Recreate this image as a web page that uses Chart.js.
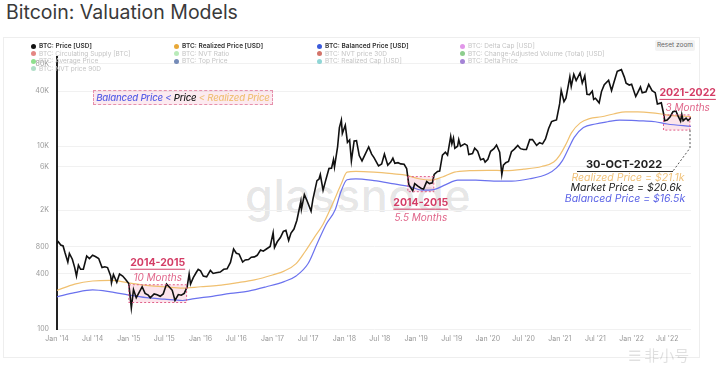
<!DOCTYPE html>
<html>
<head>
<meta charset="utf-8">
<script src="https://cdn.jsdelivr.net/npm/chart.js@4.4.0/dist/chart.umd.min.js"></script>
<style>
    body { margin: 0; width: 719px; height: 371px; background: #fff; overflow: hidden; position: relative; font-family: Inter, "Noto Sans", sans-serif; }
    .title { position: absolute; left: 6px; top: 0px; font-size: 19.5px; color: #3a3a3a; font-weight: 400; }
    .card { position: absolute; left: 3px; top: 37px; width: 697px; height: 321px; border: 1px solid #eee; box-sizing: border-box; }
    #chart { position: absolute; left: 0; top: 0; }
    .legend { position: absolute; font-size: 6.5px; white-space: nowrap; line-height: 7px; }
    .legend span.dot { display: inline-block; width: 5px; height: 5px; border-radius: 50%; margin-right: 3px; vertical-align: -0.5px; }
    .on { color: #333; font-weight: 600; }
    .off { color: #c4c4c4; }
    .off .dot { opacity: 0.7; }
    .reset { position: absolute; left: 655px; top: 40px; width: 40px; height: 11px; background: #f3f3f3; color: #666; font-size: 6.5px; line-height: 11px; text-align: center; border-radius: 2px; }
    .rule { position: absolute; left: 93px; top: 90px; width: 180px; height: 15px; background: rgba(240, 140, 170, 0.18); border: 1px dashed #e690ac; box-sizing: border-box; font-size: 9.6px; line-height: 13px; text-align: center; white-space: nowrap; font-style: italic; font-weight: 500; letter-spacing: -0.2px; }
    .watermark { position: absolute; left: 245px; top: 168px; font-size: 45px; font-weight: 500; color: rgba(0, 0, 0, 0.11); letter-spacing: 0.5px; }
    .fxh { position: absolute; left: 628px; top: 344px; font-size: 15px; color: rgba(0, 0, 0, 0.12); font-family: "Noto Sans CJK SC", sans-serif; }
</style>
</head>
<body>
<div class="title">Bitcoin: Valuation Models</div>
<div class="card"></div>
<div class="watermark">glassnode</div>
<canvas id="chart" width="719" height="371"></canvas>
<div id="legend"></div>
<div class="reset">Reset zoom</div>
<div class="rule"><span style="color:#5b63e6">Balanced Price &lt; </span><span style="color:#222">Price</span><span style="color:#f0c27a"> &lt; Realized Price</span></div>
<div class="fxh">☰ 非小号</div>
<script>
const priceDates = ['2014-01-01','2014-01-08','2014-01-20','2014-02-01','2014-02-10','2014-02-25','2014-03-05','2014-03-20','2014-04-01','2014-04-10','2014-04-20','2014-05-01','2014-05-15','2014-06-01','2014-06-15','2014-07-01','2014-07-15','2014-08-01','2014-08-18','2014-09-01','2014-09-15','2014-10-01','2014-10-05','2014-10-15','2014-11-01','2014-11-15','2014-12-01','2014-12-15',
    '2015-01-01','2015-01-14','2015-01-25','2015-02-08','2015-02-20','2015-03-10','2015-03-25','2015-04-10','2015-04-20','2015-05-10','2015-05-25','2015-06-10','2015-06-25','2015-07-12','2015-07-25','2015-08-10','2015-08-24','2015-09-10','2015-09-25','2015-10-10','2015-10-25','2015-11-04','2015-11-11','2015-11-25','2015-12-10','2015-12-20',
    '2016-01-01','2016-01-15','2016-02-01','2016-02-20','2016-03-05','2016-03-20','2016-04-10','2016-04-28','2016-05-15','2016-06-01','2016-06-17','2016-07-01','2016-07-15','2016-08-02','2016-08-15','2016-09-01','2016-09-15','2016-10-01','2016-10-15','2016-11-01','2016-11-15','2016-12-01','2016-12-20',
    '2017-01-04','2017-01-11','2017-01-25','2017-02-10','2017-02-25','2017-03-10','2017-03-24','2017-04-05','2017-04-20','2017-05-05','2017-05-25','2017-05-28','2017-06-12','2017-06-25','2017-07-16','2017-07-25','2017-08-15','2017-08-25','2017-09-01','2017-09-15','2017-09-28','2017-10-15','2017-10-28','2017-11-07','2017-11-12','2017-11-28','2017-12-07','2017-12-17','2017-12-22',
    '2018-01-06','2018-01-17','2018-01-28','2018-02-06','2018-02-20','2018-03-04','2018-03-18','2018-04-01','2018-04-15','2018-05-05','2018-05-20','2018-06-01','2018-06-24','2018-07-10','2018-07-24','2018-08-10','2018-08-25','2018-09-05','2018-09-15','2018-10-01','2018-10-15','2018-11-01','2018-11-14','2018-11-25','2018-12-15','2018-12-25',
    '2019-01-10','2019-01-28','2019-02-08','2019-02-24','2019-03-10','2019-03-25','2019-04-03','2019-04-20','2019-05-01','2019-05-15','2019-05-30','2019-06-10','2019-06-26','2019-07-02','2019-07-10','2019-07-17','2019-07-31','2019-08-06','2019-08-15','2019-09-05','2019-09-18','2019-09-26','2019-10-15','2019-10-26','2019-11-10','2019-11-25','2019-12-10','2019-12-18',
    '2020-01-01','2020-01-15','2020-02-01','2020-02-14','2020-03-01','2020-03-12','2020-03-20','2020-04-01','2020-04-15','2020-04-30','2020-05-15','2020-06-01','2020-06-15','2020-07-01','2020-07-15','2020-08-01','2020-08-15','2020-09-05','2020-09-20','2020-10-05','2020-10-20','2020-11-05','2020-11-20','2020-12-01','2020-12-15','2020-12-31',
    '2021-01-08','2021-01-22','2021-02-01','2021-02-15','2021-02-21','2021-02-28','2021-03-13','2021-03-25','2021-04-14','2021-04-25','2021-05-08','2021-05-19','2021-06-01','2021-06-15','2021-06-22','2021-07-01','2021-07-20','2021-08-01','2021-08-15','2021-09-06','2021-09-21','2021-10-01','2021-10-20','2021-11-10','2021-11-25','2021-12-04','2021-12-20',
    '2022-01-01','2022-01-22','2022-02-01','2022-02-15','2022-02-24','2022-03-15','2022-03-29','2022-04-15','2022-05-01','2022-05-12','2022-06-01','2022-06-13','2022-06-18','2022-07-01','2022-07-15','2022-07-30','2022-08-14','2022-08-25','2022-09-07','2022-09-13','2022-09-20','2022-10-05','2022-10-15','2022-10-30'];
const priceValues = [860,900,830,810,690,540,670,580,470,380,500,450,450,630,590,640,620,590,470,480,470,380,320,395,325,400,380,350,
    315,170,270,220,245,290,245,235,220,242,237,228,242,310,290,265,205,238,234,245,290,400,310,365,415,450,
    432,380,372,438,405,412,420,450,455,535,750,675,660,540,570,575,610,615,640,730,710,750,800,
    1130,780,900,1000,1170,1200,930,1120,1240,1550,2500,2050,2950,2550,1950,2600,4200,4350,4900,3300,4200,5700,5750,7150,5900,9900,16000,19300,13800,
    17000,11000,11700,6900,11400,11500,7900,6900,8000,9800,8200,7500,6100,6400,8200,6200,6700,7400,6500,6600,6400,6350,5700,3800,3250,3900,
    3650,3450,3400,4100,3900,3980,4900,5300,5350,8000,8600,8000,12800,10600,12300,9500,10000,11800,10000,10600,10200,8100,8300,9500,8800,7100,7300,6700,
    7200,8800,9400,10300,8600,4900,6200,6600,6800,8700,9300,10200,9400,9200,9200,11800,11800,10200,10900,10600,12000,15600,18600,19000,19400,29000,
    40800,30800,33500,48700,57500,45200,61200,52300,63500,49000,58800,37000,36700,40100,32500,33500,29800,39800,47000,52700,40600,48200,66000,68800,57000,49000,46700,
    47700,35000,38500,44500,38300,39300,47400,40500,38500,29000,29800,22500,19000,19300,20800,23800,24300,21500,18800,22300,19000,20300,19100,20600];

const realizedDates = ['2014-01-01','2014-04-01','2014-07-01','2014-10-01','2015-01-01','2015-04-01','2015-07-01','2015-10-01','2016-01-01','2016-04-01','2016-07-01','2016-10-01','2017-01-01','2017-03-01','2017-05-01','2017-06-15','2017-08-01','2017-09-15','2017-11-01','2017-12-15','2018-01-15','2018-03-01','2018-06-01','2018-09-01','2018-11-15','2019-01-15','2019-03-15','2019-05-15','2019-07-15','2019-10-01','2020-01-01','2020-04-01','2020-07-01','2020-10-01','2020-12-01','2021-01-01','2021-02-01','2021-03-01','2021-04-15','2021-06-01','2021-08-01','2021-10-01','2021-12-01','2022-02-01','2022-04-01','2022-06-01','2022-07-15','2022-10-30'];
const realizedValues = [265,310,335,340,320,300,290,280,290,300,320,345,390,430,520,700,1000,1400,2300,3800,5200,5300,5200,5000,4800,4400,4250,4600,5200,5400,5450,5400,5600,6000,6700,8000,10500,14000,18000,20000,21000,22500,23800,23700,23300,22500,21700,21100];

const balancedDates = ['2014-01-01','2014-04-01','2014-07-01','2014-10-01','2015-01-01','2015-04-01','2015-07-01','2015-10-01','2015-12-01','2016-03-01','2016-06-01','2016-09-01','2016-12-01','2017-03-01','2017-05-01','2017-07-01','2017-08-15','2017-10-01','2017-11-15','2017-12-15','2018-01-15','2018-03-01','2018-06-01','2018-09-01','2018-12-01','2019-02-01','2019-04-01','2019-06-01','2019-08-01','2019-11-01','2020-02-01','2020-05-01','2020-08-01','2020-11-01','2020-12-15','2021-01-15','2021-02-15','2021-03-15','2021-05-01','2021-07-01','2021-09-01','2021-11-01','2022-01-01','2022-03-01','2022-05-01','2022-07-01','2022-10-30'];
const balancedValues = [225,250,268,255,235,220,212,205,215,228,245,260,290,330,380,520,850,1400,2000,3200,4300,4400,4200,3900,3600,3300,3350,3800,4250,4250,4150,4150,4400,5000,5800,7000,9500,12500,16000,17500,18500,19300,19200,18900,18500,17500,16500];

const yTicks = [100, 400, 800, 2000, 6000, 10000, 40000, 80000];
const yTickLabels = ['100', '400', '800', '2K', '6K', '10K', '40K', '80K'];
const xTickDates = ['2014-01-01','2014-07-01','2015-01-01','2015-07-01','2016-01-01','2016-07-01','2017-01-01','2017-07-01','2018-01-01','2018-07-01','2019-01-01','2019-07-01','2020-01-01','2020-07-01','2021-01-01','2021-07-01','2022-01-01','2022-07-01'];
const xTickLabels = ["Jan '14","Jul '14","Jan '15","Jul '15","Jan '16","Jul '16","Jan '17","Jul '17","Jan '18","Jul '18","Jan '19","Jul '19","Jan '20","Jul '20","Jan '21","Jul '21","Jan '22","Jul '22"];

// shaded periods where price sat between balanced and realized price
const periods = [
    { label: '2014-2015', sub: '10 Months', from: '2015-01-01', to: '2015-10-22', low: 195, high: 305, above: true, dx: 0 },
    { label: '2014-2015', sub: '5.5 Months', from: '2018-11-20', to: '2019-04-01', low: 3180, high: 4650, above: false, dx: 0 },
    { label: '2021-2022', sub: '3 Months', from: '2022-06-12', to: '2022-10-24', low: 15000, high: 22000, above: true, dx: 11 }
];

const legendRows = [
    [['BTC: Price [USD]', '#111', true], ['BTC: Realized Price [USD]', '#e8a838', true], ['BTC: Balanced Price [USD]', '#3b5bdb', true], ['BTC: Delta Cap [USD]', '#d46be0', false]],
    [['BTC: Circulating Supply [BTC]', '#d9534f', false], ['BTC: NVT Ratio', '#9be29b', false], ['BTC: NVT price 30D', '#c0392b', false], ['BTC: Change-Adjusted Volume (Total) [USD]', '#5cb85c', false]],
    [['BTC: Average Price', '#5ed35e', false], ['BTC: Top Price', '#3a5a9a', false], ['BTC: Realized Cap [USD]', '#5fc4c4', false], ['BTC: Delta Price', '#7d4fc4', false]],
    [['BTC: NVT price 90D', '#8fd0b0', false]]
];

const legendCols = [31, 174, 317, 460];
const legendEl = document.getElementById('legend');
legendRows.forEach((row, r) => {
    row.forEach((item, c) => {
        const div = document.createElement('div');
        div.className = 'legend ' + (item[2] ? 'on' : 'off');
        div.style.left = legendCols[c] + 'px';
        div.style.top = (43 + r * 7.5) + 'px';
        div.innerHTML = '<span class="dot" style="background:' + item[1] + '"></span>' + item[0];
        legendEl.appendChild(div);
    });
});

const t = d => Date.parse(d + 'T00:00:00Z');
const toPoints = (dates, values) => dates.map((d, i) => ({ x: t(d), y: values[i] }));

const annotationPlugin = {
    id: 'periods',
    beforeDatasetsDraw(chart) {
        const ctx = chart.ctx;
        const xs = chart.scales.x, ys = chart.scales.y;
        ctx.save();
        periods.forEach(p => {
            const x1 = xs.getPixelForValue(t(p.from)), x2 = xs.getPixelForValue(t(p.to));
            const y1 = ys.getPixelForValue(p.high), y2 = ys.getPixelForValue(p.low);
            ctx.fillStyle = 'rgba(240, 130, 165, 0.22)';
            ctx.fillRect(x1, y1, x2 - x1, y2 - y1);
        });
        ctx.restore();
    },
    afterDatasetsDraw(chart) {
        const ctx = chart.ctx;
        const xs = chart.scales.x, ys = chart.scales.y;
        ctx.save();
        periods.forEach(p => {
            const x1 = xs.getPixelForValue(t(p.from)), x2 = xs.getPixelForValue(t(p.to));
            const y1 = ys.getPixelForValue(p.high), y2 = ys.getPixelForValue(p.low);
            ctx.setLineDash([2, 2]);
            ctx.strokeStyle = '#e0608a';
            ctx.lineWidth = 1;
            ctx.strokeRect(x1, y1, x2 - x1, y2 - y1);
            ctx.setLineDash([]);

            const cx = (x1 + x2) / 2 + p.dx;
            const ly = p.above ? y1 - 22 : y2 + 11;
            ctx.textAlign = 'center';
            ctx.textBaseline = 'middle';
            ctx.font = 'bold 10.5px Inter, sans-serif';
            ctx.fillStyle = '#d43d66';
            ctx.fillText(p.label, cx, ly);
            const w = ctx.measureText(p.label).width;
            ctx.fillRect(cx - w / 2, ly + 6, w, 1);
            ctx.font = 'italic 10px Inter, sans-serif';
            ctx.fillStyle = '#e0668a';
            ctx.fillText(p.sub, cx, ly + 15);
        });

        // latest values callout
        const last = xs.getPixelForValue(t(priceDates[priceDates.length - 1]));
        const boxBottom = ys.getPixelForValue(periods[2].low);
        ctx.setLineDash([2, 2]);
        ctx.strokeStyle = '#555';
        ctx.beginPath();
        ctx.moveTo(last - 1, boxBottom);
        ctx.lineTo(last - 1, 148);
        ctx.lineTo(673, 171);
        ctx.stroke();
        ctx.setLineDash([]);
        ctx.fillStyle = '#333';
        ctx.fillRect(577, 171, 96, 1);

        ctx.textAlign = 'center';
        ctx.font = 'bold 11px Inter, sans-serif';
        ctx.fillStyle = '#222';
        ctx.fillText('30-OCT-2022', 624, 165);
        ctx.font = 'italic 10.5px Inter, sans-serif';
        ctx.fillStyle = '#f0c27a';
        ctx.fillText('Realized Price = $21.1k', 628, 178);
        ctx.fillStyle = '#222';
        ctx.fillText('Market Price = $20.6k', 626, 188);
        ctx.fillStyle = '#5b63e6';
        ctx.fillText('Balanced Price = $16.5k', 625, 199);
        ctx.restore();
    }
};

new Chart(document.getElementById('chart'), {
    type: 'line',
    data: {
        datasets: [
            {
                label: 'BTC: Price [USD]',
                data: toPoints(priceDates, priceValues),
                borderColor: '#111',
                borderWidth: 1.6
            },
            {
                label: 'BTC: Realized Price [USD]',
                data: toPoints(realizedDates, realizedValues),
                borderColor: '#f0c070',
                borderWidth: 1.2,
                cubicInterpolationMode: 'monotone'
            },
            {
                label: 'BTC: Balanced Price [USD]',
                data: toPoints(balancedDates, balancedValues),
                borderColor: '#6b72ee',
                borderWidth: 1.2,
                cubicInterpolationMode: 'monotone'
            }
        ]
    },
    options: {
        responsive: false,
        animation: false,
        layout: { padding: { left: 0, right: 28, top: 57, bottom: 0 } },
        elements: { point: { radius: 0 } },
        plugins: {
            legend: { display: false },
            tooltip: { enabled: false }
        },
        scales: {
            x: {
                type: 'linear',
                min: t('2014-01-01'),
                max: t('2022-10-30'),
                afterFit: s => { s.height = 42; },
                afterBuildTicks: s => { s.ticks = xTickDates.map(d => ({ value: t(d) })); },
                ticks: {
                    callback: (v, i) => xTickLabels[i],
                    font: { size: 7, family: 'Inter' },
                    color: '#999',
                    maxRotation: 0,
                    autoSkip: false,
                    padding: 6
                },
                grid: { display: false, drawTicks: false },
                border: { display: false }
            },
            y: {
                type: 'logarithmic',
                min: 100,
                max: 94600,
                afterFit: s => { s.width = 57; },
                afterBuildTicks: s => { s.ticks = yTicks.map(v => ({ value: v })); },
                ticks: {
                    callback: v => yTickLabels[yTicks.indexOf(v)],
                    font: { size: 7, family: 'Inter' },
                    color: '#999',
                    padding: 8
                },
                grid: { color: '#f1f1f1', drawTicks: false },
                border: { display: true, color: '#222', width: 2 }
            }
        }
    },
    plugins: [annotationPlugin]
});
</script>
</body>
</html>
